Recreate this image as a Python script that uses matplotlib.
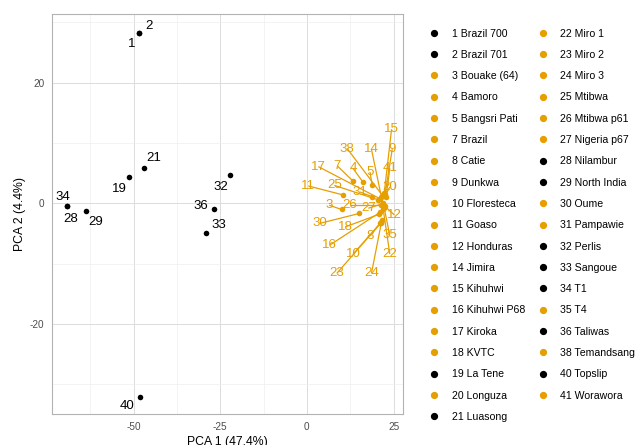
import matplotlib
matplotlib.use("Agg")
import matplotlib.pyplot as plt
from matplotlib.lines import Line2D
import numpy as np

plt.rcParams["font.family"] = ["Liberation Sans", "DejaVu Sans"]
plt.rcParams["axes.unicode_minus"] = False

# ---- data ----
ids = [1, 2, 3, 4, 5, 7, 8, 9, 10, 11, 12, 14, 15, 16, 17, 18, 19, 20, 21,
       22, 23, 24, 25, 26, 27, 28, 29, 30, 31, 32, 33, 34, 35, 36, 38, 40, 41]
names = ["Brazil 700", "Brazil 701", "Bouake (64)", "Bamoro", "Bangsri Pati",
         "Brazil", "Catie", "Dunkwa", "Floresteca", "Goaso", "Honduras",
         "Jimira", "Kihuhwi", "Kihuhwi P68", "Kiroka", "KVTC", "La Tene",
         "Longuza", "Luasong", "Miro 1", "Miro 2", "Miro 3", "Mtibwa",
         "Mtibwa p61", "Nigeria p67", "Nilambur", "North India", "Oume",
         "Pampawie", "Perlis", "Sangoue", "T1", "T4", "Taliwas",
         "Temandsang", "Topslip", "Worawora"]
group = ["A", "A", "B", "B", "B", "B", "B", "B", "B", "B", "B", "B", "B", "B",
         "B", "B", "A", "B", "A", "B", "B", "B", "B", "B", "B", "A", "A", "B",
         "B", "A", "A", "A", "B", "A", "B", "A", "B"]
pc1 = [-48.3, -48.3, 10.0, 16.2, 18.8, 13.2, 21.5, 22.5, 21.3, 10.5, 22.5,
       21.5, 22.3, 21.0, 21.0, 20.8, -51.3, 22.5, -47.1, 22.0, 21.2, 21.6,
       20.5, 21.5, 22.0, -69.2, -63.7, 15.1, 18.9, -22.1, -29.1, -69.2, 22.3,
       -26.7, 21.8, -48.0, 22.8]
pc2 = [28.3, 28.3, -1.0, 3.5, 3.0, 3.75, -3.0, 1.5, -3.2, 1.4, -0.5, 1.0,
       1.8, -1.5, 0.8, -1.8, 4.4, 1.2, 5.9, -1.0, -3.3, -2.8, 0.6, -0.3, 0.0,
       -0.45, -1.2, -1.66, 1.1, 4.7, -4.9, -0.45, -0.8, -0.95, 1.3, -32.0,
       1.0]

# label placements (repelled positions, layout only)
label_pos = {
    1: (-50.5, 26.4), 2: (-45.5, 29.4), 21: (-44.3, 7.6), 19: (-54.1, 2.4),
    34: (-70.5, 1.1), 28: (-68.0, -2.5), 29: (-60.9, -3.1), 32: (-24.9, 2.75),
    36: (-30.5, -0.4), 33: (-25.3, -3.6), 40: (-52.0, -33.6),
    15: (24.4, 12.3), 9: (24.6, 9.0), 14: (18.6, 9.0), 38: (11.6, 9.1),
    41: (23.9, 5.8), 17: (3.3, 6.1), 7: (8.8, 6.2), 4: (13.3, 5.8),
    5: (18.2, 5.2), 20: (23.9, 2.75), 11: (0.4, 2.9), 25: (7.9, 3.0),
    31: (15.3, 1.9), 3: (6.4, -0.3), 26: (12.4, -0.3), 27: (17.7, -0.8),
    12: (25.2, -1.9), 30: (3.7, -3.3), 18: (11.0, -3.9), 35: (23.9, -5.3),
    16: (6.6, -6.9), 8: (18.2, -5.4), 10: (13.3, -8.4), 22: (23.9, -8.4),
    23: (8.6, -11.6), 24: (18.6, -11.6),
}

colors = {"A": "#000000", "B": "#E69F00"}

fig = plt.figure(figsize=(6.43, 4.45), dpi=100)
ax = fig.add_axes([52 / 643, 1 - 414 / 445, (403 - 52) / 643, (414 - 14) / 445])

ax.set_xlim(-73.5, 27.7)
ax.set_ylim(-34.9, 31.4)
ax.set_xticks([-50, -25, 0, 25])
ax.set_yticks([-20, 0, 20])
ax.set_xticks([-62.5, -37.5, -12.5, 12.5], minor=True)
ax.set_yticks([-30, -10, 10, 30], minor=True)
ax.grid(True, which="major", color="#DCDCDC", linewidth=0.7)
ax.grid(True, which="minor", color="#EEEEEE", linewidth=0.5)
ax.set_axisbelow(True)
for s in ax.spines.values():
    s.set_color("#B3B3B3")
    s.set_linewidth(0.8)
ax.tick_params(which="both", length=0, labelsize=7.2, colors="#4D4D4D")
ax.tick_params(axis="x", pad=6)
ax.tick_params(axis="y", pad=5.5)
ax.set_xlabel("PCA 1 (47.4%)", fontsize=8.8, labelpad=3)
ax.set_ylabel("PCA 2 (4.4%)", fontsize=8.8, labelpad=2.5)

# segments then points then labels
for i, g, x, y in zip(ids, group, pc1, pc2):
    lx, ly = label_pos[i]
    if g == "B":
        ax.plot([lx, x], [ly, y], color=colors[g], lw=0.9, zorder=2,
                solid_capstyle="butt")
for i, g, x, y in zip(ids, group, pc1, pc2):
    ax.scatter([x], [y], s=16, color=colors[g], zorder=3, linewidths=0)
for i, g, x, y in zip(ids, group, pc1, pc2):
    lx, ly = label_pos[i]
    ax.text(lx, ly, str(i), color=colors[g], fontsize=9.5, ha="center",
            va="center", zorder=4)

# legend
handles = [Line2D([0], [0], marker="o", linestyle="none", markersize=4.2,
                  markerfacecolor=colors[g], markeredgecolor=colors[g])
           for g in group]
labels = [f"{i} {n}" for i, n in zip(ids, names)]
leg = fig.legend(handles, labels, ncol=2, loc="upper left",
                 bbox_to_anchor=(427.7 / 643, 1 - 28.6 / 445), frameon=False,
                 fontsize=7.6, labelspacing=1.07, handlelength=1.2,
                 handletextpad=1.07, columnspacing=1.1, borderaxespad=0,
                 borderpad=0)

fig.savefig("out.png", dpi=100)
